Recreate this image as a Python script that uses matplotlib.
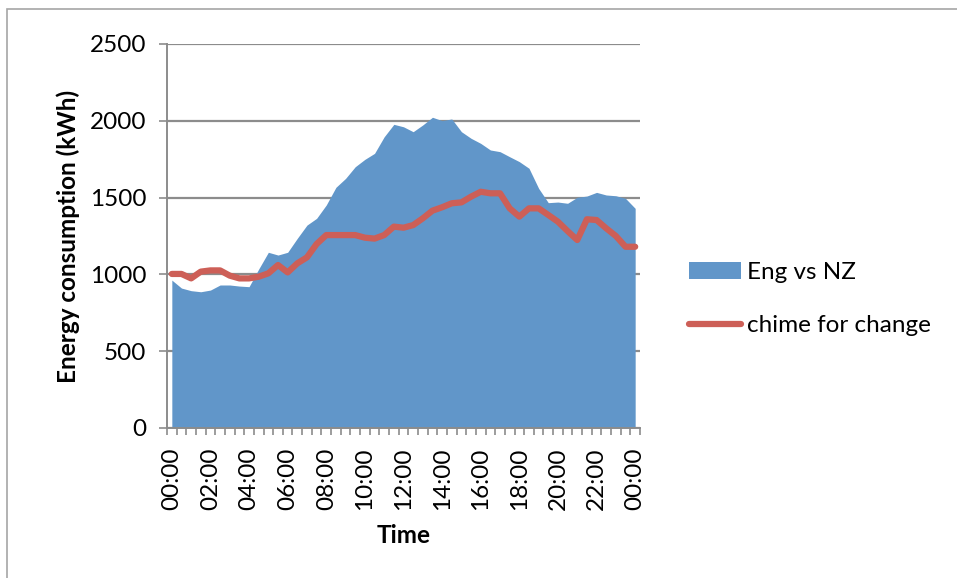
import matplotlib
matplotlib.use("Agg")
import matplotlib.pyplot as plt
from matplotlib.patches import Rectangle
from matplotlib.lines import Line2D
from matplotlib.patches import Patch

plt.rcParams['font.family'] = ['Lato', 'DejaVu Sans']

# Half-hourly readings over one day (00:00 .. 00:00 next day)
times = [f"{h:02d}:{m:02d}" for h in range(24) for m in (0, 30)] + ["00:00"]

eng_vs_nz = [963, 911, 894, 887, 898, 931, 931, 924, 920, 1035,
             1144, 1126, 1144, 1235, 1321, 1365, 1452, 1567, 1625, 1701,
             1749, 1788, 1896, 1977, 1961, 1929, 1973, 2023, 2001, 2012,
             1929, 1886, 1853, 1810, 1799, 1766, 1734, 1691, 1560, 1467,
             1471, 1463, 1502, 1510, 1534, 1517, 1512, 1495, 1430]

chime_for_change = [1003, 1003, 974, 1018, 1026, 1026, 992, 974, 974, 985,
                    1007, 1061, 1013, 1072, 1111, 1198, 1256, 1256, 1256, 1256,
                    1239, 1233, 1256, 1311, 1304, 1321, 1365, 1415, 1437, 1463,
                    1469, 1506, 1538, 1528, 1528, 1430, 1376, 1430, 1430, 1387,
                    1343, 1282, 1224, 1359, 1354, 1300, 1250, 1180, 1180]

y_ticks = [0, 500, 1000, 1500, 2000, 2500]

blue = "#6196C9"
red = "#CD5F57"
grey = "#8C8C8C"

W, H = 957, 578
fig = plt.figure(figsize=(W / 100, H / 100), dpi=100)

# chart-area frame (only left and top edges fall inside the canvas)
fig.patches.append(Rectangle((7 / W, -0.1), 1.2, 1 - 9 / H + 0.1,
                             transform=fig.transFigure, fill=False,
                             edgecolor="#A6A6A6", linewidth=1.2))

ax = fig.add_axes([167 / W, 1 - 428 / H, 473 / W, 384 / H])

x = list(range(len(times)))
ax.fill_between(x, 0, eng_vs_nz, color=blue, linewidth=0, zorder=2)
ax.plot(x, chime_for_change, color=red, linewidth=4.5,
        solid_capstyle="round", solid_joinstyle="round", zorder=3)

ax.set_xlim(-0.5, len(times) - 0.5)
ax.set_ylim(0, 2500)

# gridlines and axes
ax.set_yticks(y_ticks)
ax.set_yticklabels([str(v) for v in y_ticks], fontsize=17.5)
ax.yaxis.grid(True, color=grey, linewidth=1.6, zorder=1)
ax.set_axisbelow(True)

ax.set_xticks([i - 0.5 for i in range(len(times) + 1)], minor=False)
ax.set_xticklabels([])
ax.set_xticks(x[::4], minor=True)
ax.set_xticklabels([times[i] for i in x[::4]], minor=True,
                   rotation=90, fontsize=17.5)
ax.tick_params(axis="x", which="minor", length=0, pad=14)
ax.tick_params(axis="x", which="major", length=5, width=1.2,
               color=grey, direction="out")
ax.tick_params(axis="y", length=6, width=1.2, color=grey,
               direction="out", pad=9)

for side in ("top", "right"):
    ax.spines[side].set_visible(False)
for side in ("left", "bottom"):
    ax.spines[side].set_color(grey)
    ax.spines[side].set_linewidth(1.4)

ax.set_ylabel("Energy consumption (kWh)", fontsize=17.5, fontweight="bold",
              labelpad=7)
ax.set_xlabel("Time", fontsize=17.5, fontweight="bold", labelpad=10)

handles = [Patch(facecolor=blue, edgecolor="none", label="Eng vs NZ"),
           Line2D([0], [0], color=red, linewidth=4.5,
                  solid_capstyle="round", label="chime for change")]
fig.legend(handles=handles, loc="center left",
           bbox_to_anchor=(679 / W, 1 - 299 / H), frameon=False,
           fontsize=17.5, handlelength=2.15, handletextpad=0.25,
           labelspacing=1.35, borderaxespad=0)

fig.savefig("out.png", dpi=100)
